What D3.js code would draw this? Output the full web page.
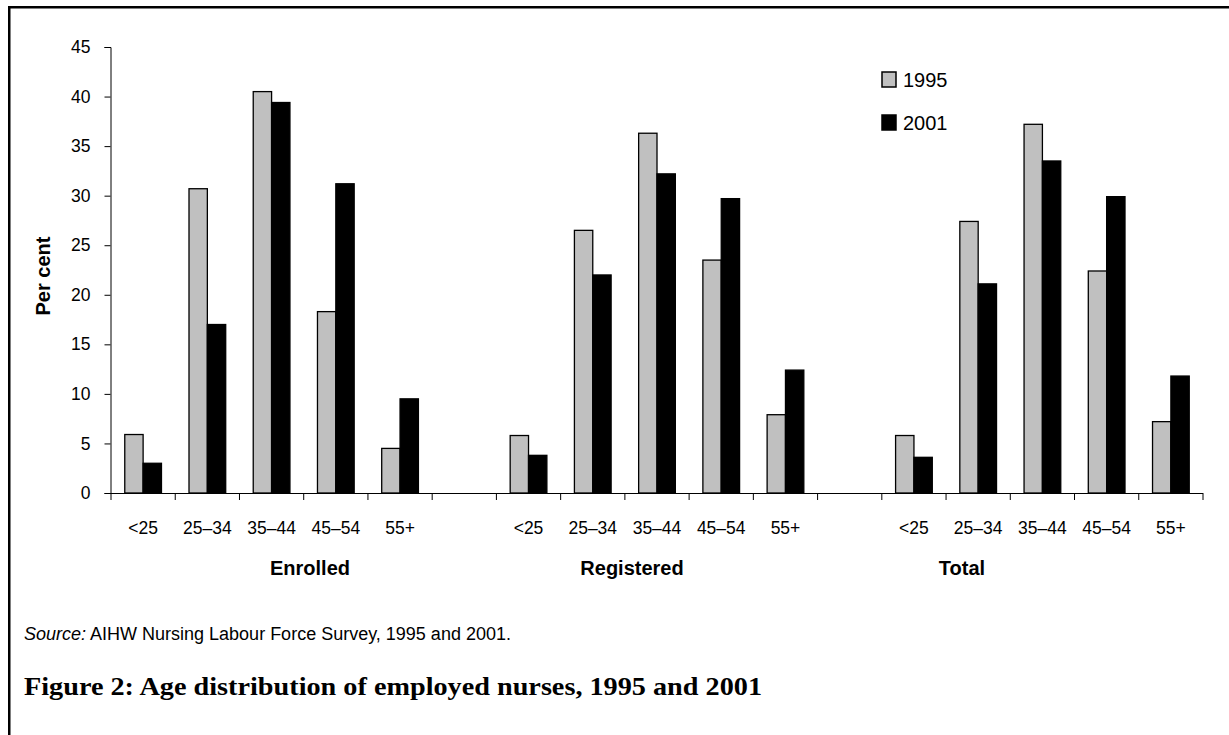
<!DOCTYPE html>
<html>
<head>
<meta charset="utf-8">
<script src="https://cdn.jsdelivr.net/npm/d3@7"></script>
<style>
  html, body { margin: 0; padding: 0; background: #fff; }
  svg { display: block; }
  text { fill: #000; }
</style>
</head>
<body>
<svg id="chart" width="1229" height="735"></svg>
<script>
const groups = ['Enrolled', 'Registered', 'Total'];
const ageGroups = ['<25', '25–34', '35–44', '45–54', '55+'];
const years = ['1995', '2001'];
const yTicks = [0, 5, 10, 15, 20, 25, 30, 35, 40, 45];

const enrolled1995 = [5.9, 30.7, 40.5, 18.3, 4.5];
const enrolled2001 = [3.0, 17.0, 39.4, 31.2, 9.5];
const registered1995 = [5.8, 26.5, 36.3, 23.5, 7.9];
const registered2001 = [3.8, 22.0, 32.2, 29.7, 12.4];
const total1995 = [5.8, 27.4, 37.2, 22.4, 7.2];
const total2001 = [3.6, 21.1, 33.5, 29.9, 11.8];

const series = {
    Enrolled: { 1995: enrolled1995, 2001: enrolled2001 },
    Registered: { 1995: registered1995, 2001: registered2001 },
    Total: { 1995: total1995, 2001: total2001 },
};
const colours = { 1995: '#c0c0c0', 2001: '#000000' };
const sans = '"Liberation Sans", Arial, sans-serif';
const serif = '"Liberation Serif", "Times New Roman", serif';

const svg = d3.select('#chart').style('font-family', sans);

// box edges (only the top and left edges fall inside the picture)
svg.append('path')
    .attr('d', 'M9.25,735 V7.25 H1229')
    .attr('fill', 'none')
    .attr('stroke', '#000')
    .attr('stroke-width', 2.5);

// one slot per age group, with an empty slot between the nurse groups
const slots = [];
groups.forEach((g, gi) => {
    ageGroups.forEach((a) => slots.push(`${g}|${a}`));
    if (gi < groups.length - 1) slots.push(`gap${gi}`);
});

const plot = { left: 111, right: 1203, top: 47, bottom: 493 };

const x0 = d3.scaleBand().domain(slots).range([plot.left, plot.right]).padding(0);
const bw = x0.bandwidth();
const edge = (bw * 0.75) / 3.5;
const x1 = d3.scaleBand().domain(years).range([edge, bw - edge]).padding(0);
const y = d3.scaleLinear().domain([0, 45]).range([plot.bottom, plot.top]);

// y axis
const yAxis = svg.append('g')
    .attr('transform', `translate(${plot.left - 0.5},0)`)
    .call(d3.axisLeft(y).tickValues(yTicks).tickSize(6).tickPadding(14));
yAxis.select('.domain').attr('stroke', '#000');
yAxis.selectAll('.tick line').attr('stroke', '#000');
yAxis.selectAll('text')
    .style('font-family', sans)
    .style('font-size', '17.5px')
    .attr('fill', '#000');

// bars
const barData = [];
groups.forEach((g) => {
    ageGroups.forEach((a, i) => {
        years.forEach((yr) => barData.push({ slot: `${g}|${a}`, year: yr, value: series[g][yr][i] }));
    });
});
svg.append('g')
    .selectAll('rect')
    .data(barData)
    .join('rect')
    .attr('x', (d) => x0(d.slot) + x1(d.year))
    .attr('y', (d) => y(d.value))
    .attr('width', x1.bandwidth())
    .attr('height', (d) => y(0) - y(d.value))
    .attr('fill', (d) => colours[d.year])
    .attr('stroke', '#000')
    .attr('stroke-width', 1.3);

// x axis line and tick marks at slot boundaries
const xAxis = svg.append('g');
xAxis.append('line')
    .attr('x1', plot.left).attr('x2', plot.right)
    .attr('y1', plot.bottom + 0.5).attr('y2', plot.bottom + 0.5)
    .attr('stroke', '#000');
const bounds = slots.map((s) => x0(s)).concat([plot.right]);
xAxis.selectAll('line.tick')
    .data(bounds)
    .join('line')
    .attr('class', 'tick')
    .attr('x1', (d) => d).attr('x2', (d) => d)
    .attr('y1', plot.bottom).attr('y2', plot.bottom + 7)
    .attr('stroke', '#000');

// age labels
xAxis.selectAll('text.age')
    .data(slots.filter((s) => s.includes('|')))
    .join('text')
    .attr('class', 'age')
    .attr('x', (d) => x0(d) + bw / 2)
    .attr('y', 534)
    .attr('text-anchor', 'middle')
    .attr('font-size', 17.5)
    .text((d) => d.split('|')[1]);

// group labels
const groupLabelX = { Enrolled: 310, Registered: 632, Total: 962 };
svg.selectAll('text.group')
    .data(groups)
    .join('text')
    .attr('class', 'group')
    .attr('x', (d) => groupLabelX[d])
    .attr('y', 575)
    .attr('text-anchor', 'middle')
    .attr('font-size', 20)
    .attr('font-weight', 'bold')
    .text((d) => d);

// y axis title
svg.append('text')
    .attr('transform', 'translate(50,276) rotate(-90)')
    .attr('text-anchor', 'middle')
    .attr('font-size', 20)
    .attr('font-weight', 'bold')
    .text('Per cent');

// legend
const legend = svg.append('g').attr('transform', 'translate(882,72)');
const legendItems = legend.selectAll('g')
    .data(years)
    .join('g')
    .attr('transform', (d, i) => `translate(0,${i * 43})`);
legendItems.append('rect')
    .attr('width', 14).attr('height', 15)
    .attr('fill', (d) => colours[d])
    .attr('stroke', '#000')
    .attr('stroke-width', 1.5);
legendItems.append('text')
    .attr('x', 21)
    .attr('y', 15)
    .attr('font-size', 20)
    .text((d) => d);

// source note
const source = svg.append('text')
    .attr('x', 24)
    .attr('y', 640)
    .attr('font-size', 18);
source.append('tspan').attr('font-style', 'italic').text('Source:');
source.append('tspan').text(' AIHW Nursing Labour Force Survey, 1995 and 2001.');

// figure caption
svg.append('text')
    .attr('x', 24)
    .attr('y', 695)
    .style('font-family', serif)
    .attr('font-size', 26)
    .attr('font-weight', 'bold')
    .attr('textLength', 738)
    .attr('lengthAdjust', 'spacingAndGlyphs')
    .text('Figure 2: Age distribution of employed nurses, 1995 and 2001');
</script>
</body>
</html>
